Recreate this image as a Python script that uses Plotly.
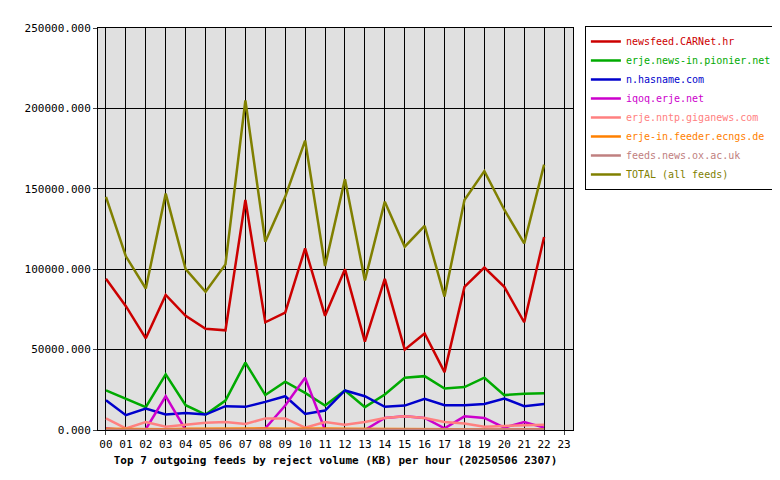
import plotly.graph_objects as go

hours = ["%02d" % h for h in range(23)]
tick_labels = ["%02d" % h for h in range(24)]

carnet = [94000, 77000, 57000, 84000, 71000, 63000, 62000, 143000, 67000, 73000, 113000, 71000,
          100000, 55000, 94000, 50000, 60000, 36000, 89000, 101000, 89000, 67000, 120000]
pionier = [24600, 19400, 14200, 34600, 15400, 9600, 18300, 41900, 21700, 30000, 23100, 15200,
           24600, 14200, 22100, 32500, 33500, 25800, 26700, 32500, 21700, 22500, 22900]
hasname = [18500, 9200, 13300, 9600, 10600, 9600, 14800, 14400, 17500, 21000, 10000, 12100,
           24600, 21000, 14400, 15200, 19400, 15400, 15400, 16200, 19600, 14800, 16200]
iqoq = [1000, 0, 500, 21000, 0, 0, 0, 0, 1000, 15200, 32500, 0,
        0, 0, 7500, 8500, 7500, 1000, 8500, 7500, 1500, 5000, 1500]
giganews = [7200, 1000, 5000, 2000, 3300, 4500, 5000, 3700, 7200, 7200, 1500, 5000,
            3300, 5000, 7500, 8500, 7500, 5000, 4000, 2000, 2500, 3000, 3300]
ecngs = [800, 600, 700, 500, 800, 900, 700, 800, 900, 800, 1000, 900,
         800, 700, 600, 700, 500, 400, 300, 300, 300, 500, 400]
oxac = [200, 200, 300, 200, 300, 200, 300, 200, 300, 200, 300, 200,
        300, 200, 300, 200, 300, 200, 300, 200, 300, 200, 300]
total = [145000, 108000, 88000, 147000, 100000, 86000, 103000, 205000, 117000, 145000, 180000, 102000,
         156000, 93000, 142000, 114000, 127000, 83000, 143000, 161000, 137000, 116000, 165000]

series = [
    ("newsfeed.CARNet.hr", carnet, "#cc0000"),
    ("erje.news-in.pionier.net.pl", pionier, "#00aa00"),
    ("n.hasname.com", hasname, "#0000cc"),
    ("iqoq.erje.net", iqoq, "#cc00cc"),
    ("erje.nntp.giganews.com", giganews, "#ff8080"),
    ("erje-in.feeder.ecngs.de", ecngs, "#ff8000"),
    ("feeds.news.ox.ac.uk", oxac, "#c08080"),
    ("TOTAL (all feeds)", total, "#808000"),
]

font = "DejaVu Sans Mono, monospace"
fig = go.Figure()
for name, vals, col in series:
    fig.add_trace(go.Scatter(
        x=list(range(len(vals))), y=vals, mode="lines",
        name='<span style="color:%s">%s</span>' % (col, name),
        line=dict(color=col, width=2.5),
    ))

fig.update_layout(
    width=780, height=480,
    margin=dict(l=90, r=215, t=20, b=58, autoexpand=False),
    paper_bgcolor="white", plot_bgcolor="#e0e0e0",
    font=dict(family=font, size=11, color="black"),
    legend=dict(x=1.025, y=1.005, xanchor="left", yanchor="top",
                bordercolor="black", borderwidth=1, tracegroupgap=0,
                itemwidth=30, font=dict(family=font, size=10)),
    xaxis=dict(range=[-0.4, 23.45], tickmode="array", tickvals=list(range(24)),
               ticktext=tick_labels, showgrid=True, gridcolor="black", gridwidth=1,
               ticks="outside", ticklen=4, zeroline=False, showline=True, linecolor="black",
               mirror=True, automargin=False,
               title=dict(text="<b>Top 7 outgoing feeds by reject volume (KB) per hour (20250506 2307)</b>",
                          font=dict(family=font, size=11), standoff=6)),
    yaxis=dict(range=[0, 250000], tickvals=[0, 50000, 100000, 150000, 200000, 250000],
               ticktext=["0.000", "50000.000", "100000.000", "150000.000", "200000.000", "250000.000"],
               showgrid=True, gridcolor="black", gridwidth=1, ticks="outside", ticklen=4,
               zeroline=False, showline=True, linecolor="black", mirror=True, automargin=False),
)
fig.write_html("out.html")
